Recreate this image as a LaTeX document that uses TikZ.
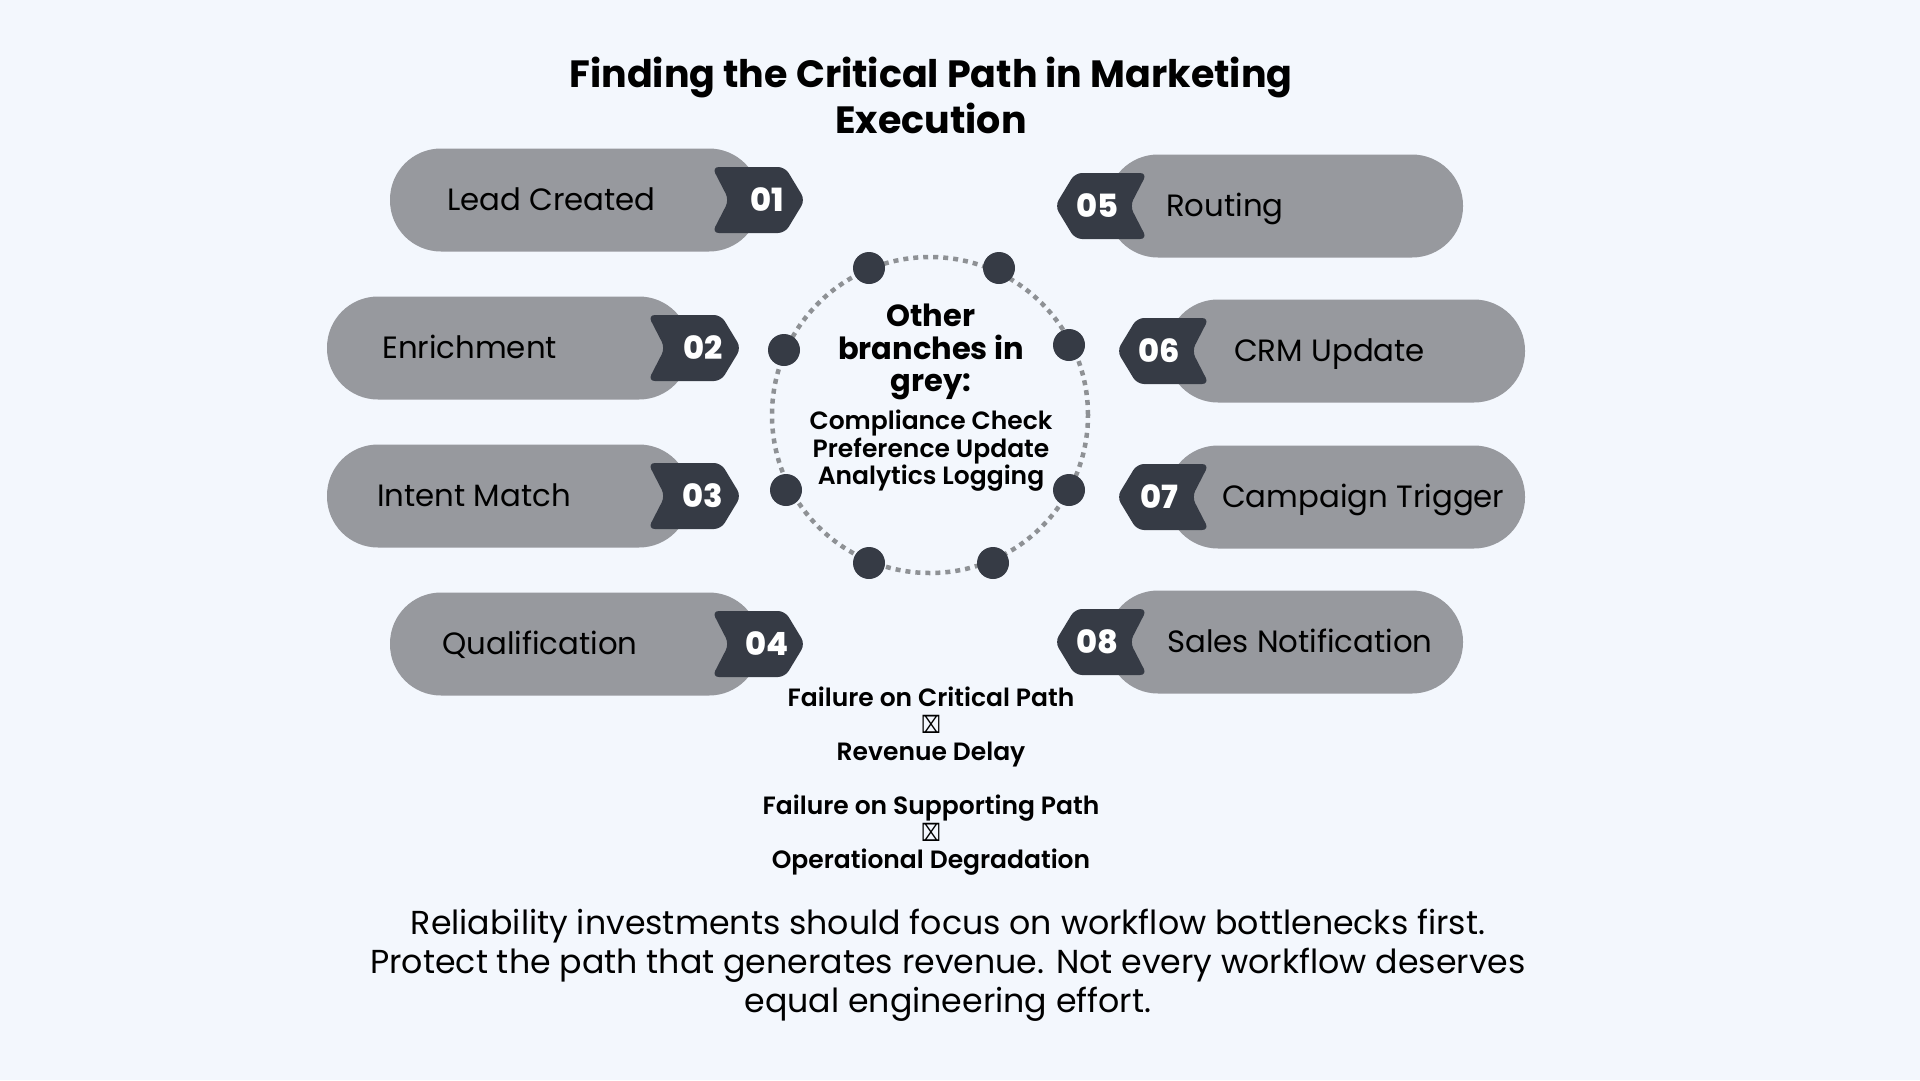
\documentclass[tikz,border=0pt]{standalone}
\usepackage{fontspec}
\setmainfont{Poppins}
\newfontfamily\popsemi{Poppins SemiBold}
\newfontfamily\popbold{Poppins Bold}
\newfontfamily\popheavy{Poppins ExtraBold}
\newfontfamily\dejavu{DejaVu Sans}

\definecolor{bgblue}{HTML}{F3F7FD}
\definecolor{pillgrey}{HTML}{97999E}
\definecolor{tagdark}{HTML}{363B45}
\definecolor{ringgrey}{HTML}{8E9195}

\newcommand{\missingglyph}{{\dejavu\fontsize{24}{20}\selectfont\scalebox{0.7}[1]{⌧}}}

\tikzset{
  pill/.style={fill=pillgrey, rounded corners=51pt, minimum height=103pt, inner sep=0pt},
  pilltext/.style={anchor=west, inner sep=0pt, text height=21.5pt, text depth=0pt,
    font=\fontsize{30.8}{36}\selectfont},
  tagnum/.style={text=white, inner sep=0pt, font=\popheavy\fontsize{32}{36}\selectfont},
  tagright/.pic={\fill[tagdark, rounded corners=7pt]
    (0,-33) -- (73,-33) -- (93,0) -- (73,33) -- (0,33) -- (17,0) -- cycle;},
  tagleft/.pic={\fill[tagdark, rounded corners=7pt]
    (0,0) -- (20,-33) -- (92,-33) -- (75,0) -- (92,33) -- (20,33) -- cycle;},
  ring/.style={draw=ringgrey, line width=4.5pt, dash pattern=on 5pt off 5pt},
  ringdot/.style={fill=tagdark},
  centertext/.style={align=center, inner sep=0pt},
}

\begin{document}
\begin{tikzpicture}[x=1pt,y=-1pt]
    % Background
    \fill[bgblue] (0,0) rectangle (1920,1080);

    % Title
    \node[centertext, font=\popbold\fontsize{38}{46}\selectfont] (title) at (931,95)
        {Finding the Critical Path in Marketing\\Execution};

    % Left column
    \node[pill, minimum width=370pt] (lead) at (575,200) {};
    \pic at (712,200) {tagright};
    \node[tagnum] (n01) at (767,200) {01};
    \node[pilltext] (tlead) at (447,200) {Lead Created};

    \node[pill, minimum width=363pt] (enrich) at (508.5,348) {};
    \pic at (648,348) {tagright};
    \node[tagnum] (n02) at (703,348) {02};
    \node[pilltext] (tenrich) at (382,348) {Enrichment};

    \node[pill, minimum width=363pt] (intent) at (508.5,496) {};
    \pic at (648,496) {tagright};
    \node[tagnum] (n03) at (703,496) {03};
    \node[pilltext] (tintent) at (377,496) {Intent Match};

    \node[pill, minimum width=370pt] (qualify) at (575,644) {};
    \pic at (712,644) {tagright};
    \node[tagnum] (n04) at (767,644) {04};
    \node[pilltext] (tqualify) at (442,644) {Qualification};

    % Right column
    \node[pill, minimum width=356pt] (route) at (1285,206) {};
    \pic at (1055,206) {tagleft};
    \node[tagnum] (n05) at (1097,206) {05};
    \node[pilltext] (troute) at (1166,206) {Routing};

    \node[pill, minimum width=358pt] (crm) at (1346,351) {};
    \pic at (1117,351) {tagleft};
    \node[tagnum] (n06) at (1159,351) {06};
    \node[pilltext] (tcrm) at (1234,351) {CRM Update};

    \node[pill, minimum width=358pt] (campaign) at (1346,497) {};
    \pic at (1117,497) {tagleft};
    \node[tagnum] (n07) at (1159,497) {07};
    \node[pilltext] (tcampaign) at (1222,497) {Campaign Trigger};

    \node[pill, minimum width=356pt] (sales) at (1285,642) {};
    \pic at (1055,642) {tagleft};
    \node[tagnum] (n08) at (1097,642) {08};
    \node[pilltext] (tsales) at (1167,642) {Sales Notification};

    % Ring of other branches
    \draw[ring] (930,415) circle[radius=158pt];
    \foreach \x/\y in {869/268, 999/268, 784/350, 1069/345, 786/490, 1069/490, 869/563, 993/563}
        \fill[ringdot] (\x,\y) circle[radius=16pt];
    \node[centertext, font=\popbold\fontsize{30.5}{32.5}\selectfont] (other) at (931,352)
        {Other\\branches in\\grey:};
    \node[centertext, font=\popsemi\fontsize{25}{27.5}\selectfont] (branches) at (931,451)
        {Compliance Check\\Preference Update\\Analytics Logging};

    % Impact of failures
    \node[centertext, font=\popsemi\fontsize{25}{27}\selectfont] (impact) at (931,781)
        {Failure on Critical Path\\\missingglyph\\Revenue Delay\\[27pt]
         Failure on Supporting Path\\\missingglyph\\Operational Degradation};

    % Summary
    \node[centertext, font=\fontsize{33.2}{39}\selectfont] (summary) at (948,965)
        {Reliability investments should focus on workflow bottlenecks first.\\
         Protect the path that generates revenue. Not every workflow deserves\\
         equal engineering effort.};
\end{tikzpicture}
\end{document}
